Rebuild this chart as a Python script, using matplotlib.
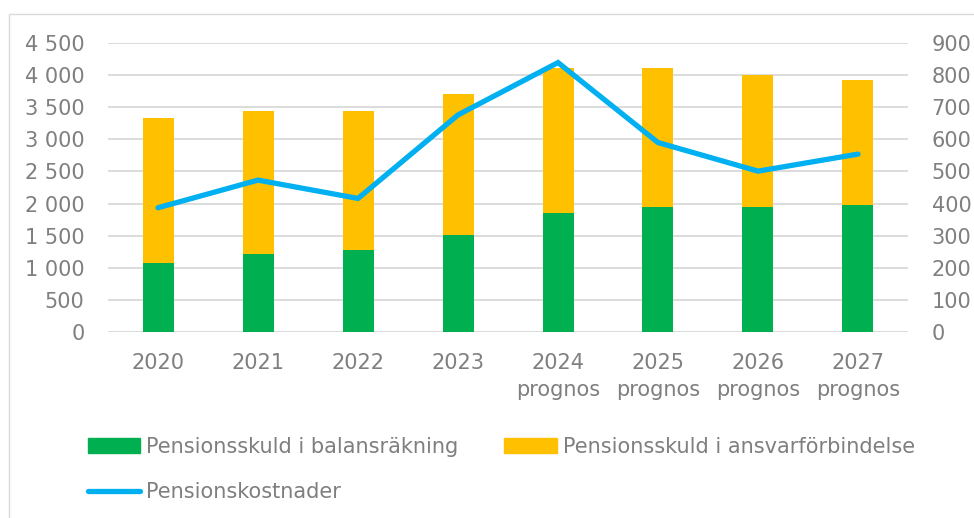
import numpy as np
import matplotlib
matplotlib.use("Agg")
import matplotlib.pyplot as plt
from matplotlib.patches import Rectangle, Patch
from matplotlib.lines import Line2D
from matplotlib.ticker import FuncFormatter, MultipleLocator

# data
ar = ["2020", "2021", "2022", "2023", "2024\nprognos", "2025\nprognos", "2026\nprognos", "2027\nprognos"]
skuld_balans = [1075, 1215, 1280, 1505, 1855, 1950, 1950, 1985]
skuld_ansvar = [2255, 2230, 2160, 2205, 2250, 2160, 2045, 1940]
kostnader = [387, 473, 416, 676, 839, 590, 501, 554]

gron = "#00B050"
gul = "#FFC000"
bla = "#00B0F0"
textfarg = "#7F7F7F"
gridfarg = "#D9D9D9"

plt.rcParams['font.family'] = ['DejaVu Sans']
plt.rcParams['font.size'] = 15

fig = plt.figure(figsize=(9.74, 5.18), dpi=100)
ax = fig.add_axes([108/974, 1-332/518, 800/974, 289/518])
ax2 = ax.twinx()

x = np.arange(len(ar))
ax.bar(x, skuld_balans, width=0.31, color=gron, zorder=2)
ax.bar(x, skuld_ansvar, width=0.31, bottom=skuld_balans, color=gul, zorder=2)
ax2.plot(x, kostnader, color=bla, lw=3.8, solid_capstyle='round', solid_joinstyle='miter', zorder=3)

ax.set_xlim(-0.5, 7.5)
ax.set_ylim(0, 4500)
ax2.set_ylim(0, 900)
ax.yaxis.set_major_locator(MultipleLocator(500))
ax2.yaxis.set_major_locator(MultipleLocator(100))
ax.yaxis.set_major_formatter(FuncFormatter(lambda v, p: f"{int(v):,}".replace(",", " ")))
ax.set_xticks(x)
ax.set_xticklabels(ar, linespacing=1.45)

ax.grid(axis='y', color=gridfarg, lw=1.3)
ax.set_axisbelow(True)
for a in (ax, ax2):
    for s in a.spines.values():
        s.set_visible(False)
    a.tick_params(length=0, colors=textfarg, labelsize=15)
ax.tick_params(axis='x', pad=15)
ax.tick_params(axis='y', pad=17)
ax2.tick_params(axis='y', pad=17)

handles = [Patch(color=gron, label="Pensionsskuld i balansräkning"),
           Line2D([], [], color=bla, lw=3.8, solid_capstyle='round', label="Pensionskostnader"),
           Patch(color=gul, label="Pensionsskuld i ansvarförbindelse")]
leg = fig.legend(handles=handles, ncol=2, loc='upper left', bbox_to_anchor=(88/974, 1-437/518),
                 frameon=False, fontsize=15, handlelength=2.5, handletextpad=0.3, columnspacing=2.2,
                 labelspacing=1.2, borderaxespad=0, borderpad=0)
for t in leg.get_texts():
    t.set_color(textfarg)

fig.add_artist(Rectangle((9/974, -0.1), 1.2, 1.1 - 14/518, transform=fig.transFigure,
                         fill=False, edgecolor="#D9D9D9", lw=1))

fig.savefig("out.png", dpi=100)
